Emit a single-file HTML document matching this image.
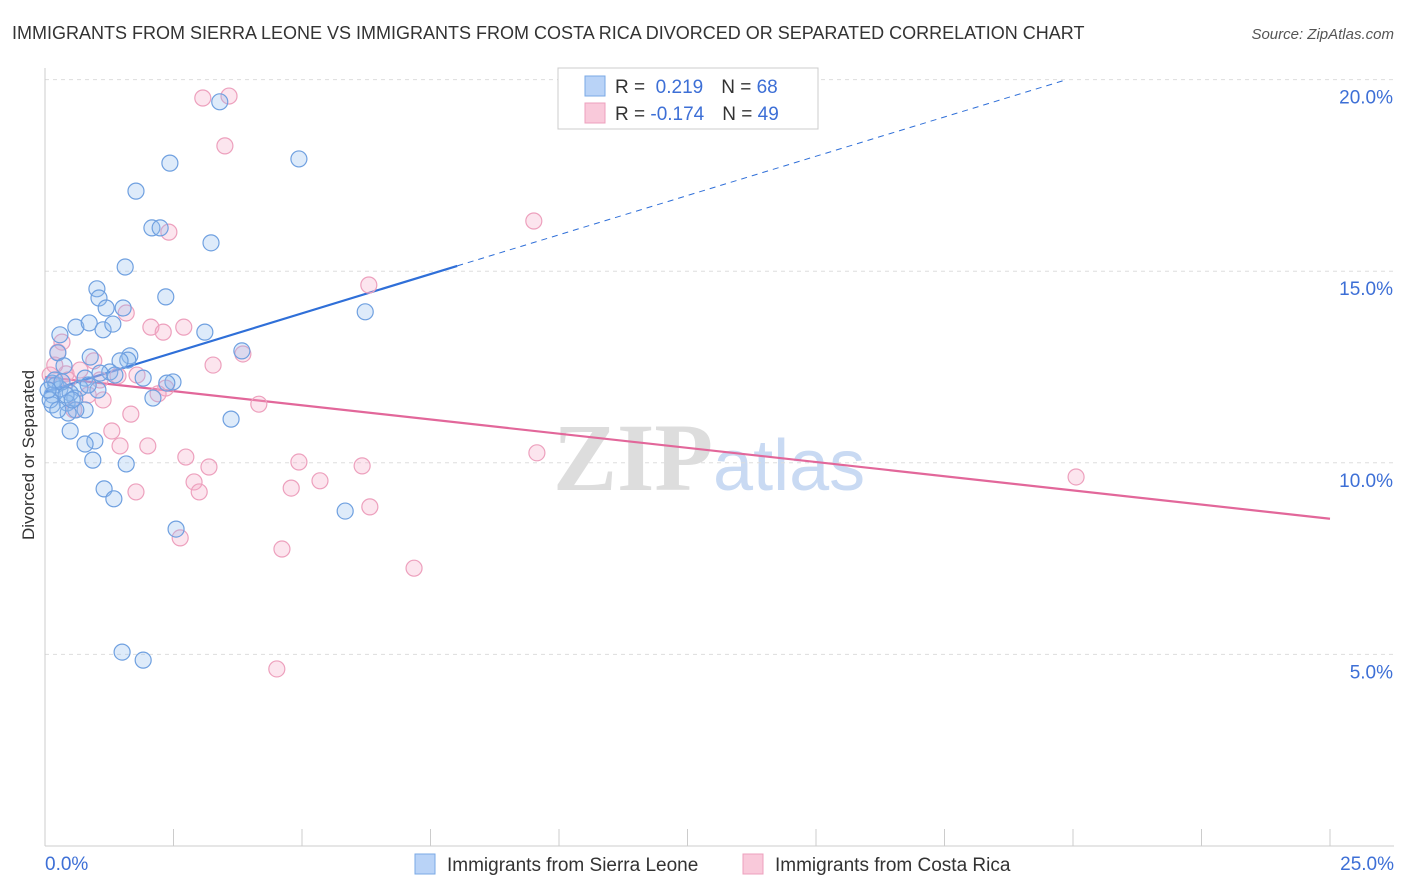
<!DOCTYPE html>
<html><head><meta charset="utf-8"><style>
body{margin:0;background:#fff;font-family:"Liberation Sans",sans-serif;}
svg{display:block}
</style></head><body>
<svg id="chart" width="1406" height="892" xmlns="http://www.w3.org/2000/svg">
<text x="12" y="39" font-size="18" fill="#333">IMMIGRANTS FROM SIERRA LEONE VS IMMIGRANTS FROM COSTA RICA DIVORCED OR SEPARATED CORRELATION CHART</text>
<text x="1394" y="39" font-size="15" fill="#555" font-style="italic" text-anchor="end">Source: ZipAtlas.com</text>
<text x="553" y="490" font-size="96" fill="#ddd" font-family="Liberation Serif,serif" font-weight="bold">ZIP<tspan fill="#c9daf3" font-family="Liberation Sans,sans-serif" font-weight="normal" font-size="72">atlas</tspan></text>
<g id="grid"></g><g id="axes"></g><g id="trends"></g><g id="points"></g>
<text transform="translate(34,455) rotate(-90)" font-size="17" fill="#333" text-anchor="middle">Divorced or Separated</text>
<g>
<rect x="558" y="68" width="260" height="61" fill="#fff" stroke="#ccc"/>
<rect x="585" y="76" width="20" height="20" fill="#b9d3f7" stroke="#7aa8e6"/>
<text x="615" y="93" font-size="19" fill="#333">R = <tspan fill="#3d6fd6">&#160;0.219</tspan><tspan dx="18" fill="#333">N = </tspan><tspan fill="#3d6fd6">68</tspan></text>
<rect x="585" y="103" width="20" height="20" fill="#f9c9da" stroke="#eda0bd"/>
<text x="615" y="120" font-size="19" fill="#333">R = <tspan fill="#3d6fd6">-0.174</tspan><tspan dx="18" fill="#333">N = </tspan><tspan fill="#3d6fd6">49</tspan></text>
</g>
<g>
<rect x="415" y="854" width="20" height="20" fill="#b9d3f7" stroke="#7aa8e6"/>
<text x="447" y="871" font-size="19" fill="#333">Immigrants from Sierra Leone</text>
<rect x="743" y="854" width="20" height="20" fill="#f9c9da" stroke="#eda0bd"/>
<text x="775" y="871" font-size="19" fill="#333">Immigrants from Costa Rica</text>
</g>
</svg>
<script>
const blueX=[3.40,2.43,4.94,1.77,2.08,2.24,3.23,1.56,2.35,1.01,1.05,1.19,1.52,6.23,0.60,0.86,1.13,1.32,0.29,3.11,3.83,0.25,0.88,1.65,1.61,1.46,0.37,1.26,1.07,0.78,1.91,2.49,2.37,0.14,0.21,0.29,0.68,1.03,0.49,0.14,0.58,2.10,0.43,0.14,0.10,0.78,0.60,0.45,3.62,0.49,0.97,0.78,0.93,1.58,1.15,1.34,2.55,5.84,1.50,1.91,0.19,0.33,0.41,0.53,0.84,1.36,0.06,0.25];
const blueY=[19.42,17.82,17.93,17.09,16.13,16.13,15.74,15.11,14.33,14.54,14.30,14.04,14.04,13.94,13.54,13.65,13.47,13.62,13.34,13.41,12.92,12.87,12.76,12.79,12.68,12.66,12.53,12.37,12.34,12.21,12.21,12.11,12.08,12.08,12.03,11.93,11.95,11.90,11.82,11.77,11.69,11.69,11.56,11.51,11.64,11.38,11.38,11.30,11.14,10.83,10.57,10.49,10.07,9.97,9.32,9.06,8.27,8.74,5.06,4.85,12.16,12.11,11.77,11.64,12.03,12.29,11.90,11.38];
const pinkX=[3.07,3.58,3.50,9.51,2.41,6.30,1.58,2.06,2.70,2.30,0.33,0.25,3.85,3.27,0.95,0.41,1.42,1.79,2.35,2.20,1.13,4.16,1.67,0.56,1.30,2.00,1.46,9.57,2.74,3.19,4.94,6.17,2.90,3.00,5.35,4.79,1.77,20.06,6.32,2.63,4.61,7.18,4.51,0.10,0.19,0.45,0.68,0.84,1.07];
const pinkY=[19.52,19.57,18.27,16.31,16.02,14.64,13.91,13.54,13.54,13.41,13.15,12.89,12.84,12.55,12.66,12.32,12.27,12.29,11.95,11.80,11.64,11.53,11.27,11.38,10.83,10.44,10.44,10.26,10.15,9.89,10.02,9.92,9.50,9.24,9.53,9.34,9.24,9.63,8.85,8.04,7.75,7.25,4.62,12.29,12.55,12.16,12.42,11.77,12.16];
const yTicks=[5,10,15,20];
const yTickLabels=["5.0%","10.0%","15.0%","20.0%"];
const xTicks=[0,2.5,5,7.5,10,12.5,15,17.5,20,22.5,25];
const blueTrend=[11.85,0.41];
const pinkTrend=[12.24,-0.148];
const NS="http://www.w3.org/2000/svg";
const X=v=>45+v*51.4, Y=v=>846-v*38.32;
function mk(t,a,p){const e=document.createElementNS(NS,t);for(const k in a)e.setAttribute(k,a[k]);p.appendChild(e);return e;}
const grid=document.getElementById('grid'),axes=document.getElementById('axes'),tr=document.getElementById('trends'),pts=document.getElementById('points');
yTicks.forEach((v,i)=>{
 const l=mk('line',{x1:45,x2:1394,y1:Y(v),y2:Y(v),stroke:'#ddd','stroke-dasharray':'4,4'},grid);
 
 
 const t=mk('text',{x:1393,y:Y(v)+24,'font-size':19,fill:'#3d6fd6','text-anchor':'end'},axes);
 t.textContent=yTickLabels[i];
 
 
});
const ax=mk('line',{x1:45,x2:1394,y1:846,y2:846,stroke:'#ccc'},axes);


const ay=mk('line',{x1:45,x2:45,y1:68,y2:846,stroke:'#ccc'},axes);


xTicks.forEach(v=>{
 const l=mk('line',{x1:X(v),x2:X(v),y1:829,y2:846,stroke:'#ccc'},axes);
 
 
});
const x0=mk('text',{x:45,y:870,'font-size':19,fill:'#3d6fd6'},axes);x0.textContent='0.0%';


const x1=mk('text',{x:1394,y:870,'font-size':19,fill:'#3d6fd6','text-anchor':'end'},axes);x1.textContent='25.0%';


function drawPts(xs,ys,fill,stroke,name){xs.forEach((x,i)=>{
 const c=mk('circle',{cx:X(x),cy:Y(ys[i]),r:8,fill:fill,stroke:stroke,'stroke-width':1.2},pts);
 
 
});}
drawPts(pinkX,pinkY,'rgba(245,170,200,0.3)','#eda0bd','costa-rica-point');
drawPts(blueX,blueY,'rgba(147,190,240,0.3)','#6fa0e0','sierra-leone-point');
const bEnd=8.02, bDashEnd=(20-blueTrend[0])/blueTrend[1];
const b1=mk('line',{x1:X(0),y1:Y(blueTrend[0]),x2:X(bEnd),y2:Y(blueTrend[0]+blueTrend[1]*bEnd),stroke:'#2f6fd8','stroke-width':2.2},tr);


const b2=mk('line',{x1:X(bEnd),y1:Y(blueTrend[0]+blueTrend[1]*bEnd),x2:X(bDashEnd),y2:Y(20),stroke:'#2f6fd8','stroke-width':1,'stroke-dasharray':'6,5'},tr);


const p1=mk('line',{x1:X(0),y1:Y(pinkTrend[0]),x2:X(25),y2:Y(pinkTrend[0]+pinkTrend[1]*25),stroke:'#e2679a','stroke-width':2.2},tr);


</script>
</body></html>
